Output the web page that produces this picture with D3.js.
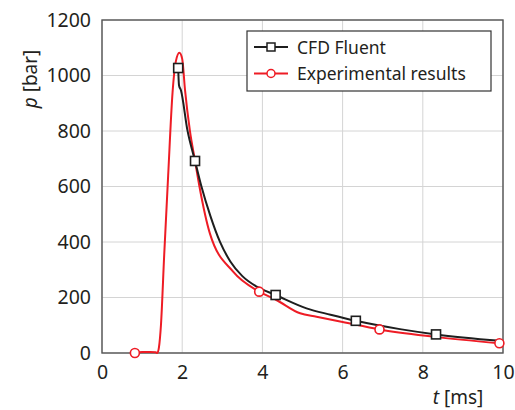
<!DOCTYPE html>
<html>
<head>
<meta charset="utf-8">
<script src="https://cdn.jsdelivr.net/npm/d3@7"></script>
<style>
  body { margin: 0; background: #fff; }
  svg { display: block; font-family: "Noto Sans", "Open Sans", sans-serif; }
</style>
</head>
<body>
<div id="chart"></div>
<script>
// Pressure vs time — CFD Fluent vs experimental results
const xTicks = [0, 2, 4, 6, 8, 10];
const yTicks = [0, 200, 400, 600, 800, 1000, 1200];

// CFD Fluent (black) curve
const cfdT = [1.90, 1.92, 1.97, 2.13, 2.32, 2.48, 2.70, 2.94, 3.20, 3.50, 3.86, 4.33, 5.10, 5.70, 6.33, 7.43, 8.33, 9.93];
const cfdP = [1027, 965, 946, 803, 692, 600, 495, 401, 330, 277, 239, 209, 161, 138, 116, 86, 67, 44];
const cfdMarkT = [1.90, 2.32, 4.33, 6.33, 8.33];
const cfdMarkP = [1027, 692, 209, 116, 67];

// Experimental (red) curve
const expT = [0.82, 1.00, 1.20, 1.34, 1.38, 1.42, 1.47, 1.55, 1.65, 1.76, 1.84, 1.93, 2.00, 2.07, 2.19, 2.32, 2.43, 2.69, 3.27, 3.92, 4.35, 4.94, 5.35, 6.00, 6.92, 8.26, 9.91];
const expP = [0, 4, 4, 3, 0, 20, 100, 350, 640, 940, 1050, 1082, 1060, 948, 803, 692, 600, 431, 293, 221, 191, 143, 131, 112, 85, 59, 35];
const expMarkT = [0.82, 3.92, 6.92, 9.91];
const expMarkP = [0, 221, 85, 35];

const legendLabels = ["CFD Fluent", "Experimental results"];
const colors = ["#1e1e1e", "#ee1c25"];

(function(){
  const width = 515, height = 410;
  const margin = {top: 20, right: 12, bottom: 57, left: 102};
  const innerW = width - margin.left - margin.right;
  const innerH = height - margin.top - margin.bottom;

  const svg = d3.select("#chart").append("svg")
    .attr("width", width)
    .attr("height", height);

  const g = svg.append("g")
    .attr("transform", `translate(${margin.left},${margin.top})`);

  const x = d3.scaleLinear().domain([0, 10]).range([0, innerW]);
  const y = d3.scaleLinear().domain([0, 1200]).range([innerH, 0]);

  // Grid
  g.append("g").selectAll("line").data(xTicks).join("line")
    .attr("x1", d => x(d)).attr("x2", d => x(d))
    .attr("y1", 0).attr("y2", innerH)
    .attr("stroke", "#d4d4d4").attr("stroke-width", 1);
  g.append("g").selectAll("line").data(yTicks).join("line")
    .attr("x1", 0).attr("x2", innerW)
    .attr("y1", d => y(d)).attr("y2", d => y(d))
    .attr("stroke", "#d4d4d4").attr("stroke-width", 1);

  // Axes
  const xAxis = g.append("g")
    .attr("transform", `translate(0,${innerH})`)
    .call(d3.axisBottom(x).tickValues(xTicks).tickFormat(d3.format("d")).tickSize(0).tickPadding(12));
  const yAxis = g.append("g")
    .call(d3.axisLeft(y).tickValues(yTicks).tickFormat(d3.format("d")).tickSize(0).tickPadding(11));
  [xAxis, yAxis].forEach(a => {
    a.select(".domain").remove();
    a.selectAll("text")
      .attr("fill", "#231f20")
      .style("font-size", "19.5px")
      .style("font-family", "'Noto Sans', sans-serif");
  });

  // Frame
  g.append("rect")
    .attr("width", innerW).attr("height", innerH)
    .attr("fill", "none").attr("stroke", "#555").attr("stroke-width", 1.4);

  // Axis labels
  const yl = svg.append("text")
    .attr("transform", `translate(37,79) rotate(-90)`)
    .attr("text-anchor", "middle")
    .attr("fill", "#231f20")
    .style("font-size", "19px");
  yl.append("tspan").attr("font-style", "italic").text("p");
  yl.append("tspan").text(" [bar]");

  const xl = svg.append("text")
    .attr("x", 458).attr("y", 404)
    .attr("text-anchor", "middle")
    .attr("fill", "#231f20")
    .style("font-size", "19px");
  xl.append("tspan").attr("font-style", "italic").text("t");
  xl.append("tspan").text(" [ms]");

  const line = d3.line()
    .x(d => x(d[0]))
    .y(d => y(d[1]))
    .curve(d3.curveMonotoneX);

  const cfd = d3.zip(cfdT, cfdP);
  const exp = d3.zip(expT, expP);

  g.append("path").datum(exp)
    .attr("fill", "none").attr("stroke", colors[1]).attr("stroke-width", 2)
    .attr("d", line);
  g.append("path").datum(cfd)
    .attr("fill", "none").attr("stroke", colors[0]).attr("stroke-width", 2)
    .attr("d", line);

  // Markers
  g.selectAll(".sq").data(d3.zip(cfdMarkT, cfdMarkP)).join("rect")
    .attr("class", "sq")
    .attr("x", d => x(d[0]) - 4.5).attr("y", d => y(d[1]) - 4.5)
    .attr("width", 9).attr("height", 9)
    .attr("fill", "#fff").attr("stroke", colors[0]).attr("stroke-width", 1.6);
  g.selectAll(".ci").data(d3.zip(expMarkT, expMarkP)).join("circle")
    .attr("class", "ci")
    .attr("cx", d => x(d[0])).attr("cy", d => y(d[1]))
    .attr("r", 4.5)
    .attr("fill", "#fff").attr("stroke", colors[1]).attr("stroke-width", 1.6);

  // Legend
  const legend = svg.append("g").attr("transform", "translate(247,31)");
  legend.append("rect")
    .attr("width", 244).attr("height", 60)
    .attr("fill", "#fff").attr("stroke", "#333").attr("stroke-width", 1.2);
  legendLabels.forEach((lab, i) => {
    const row = legend.append("g").attr("transform", `translate(0,${16 + i * 26.5})`);
    row.append("line")
      .attr("x1", 7).attr("x2", 41)
      .attr("stroke", colors[i]).attr("stroke-width", 2);
    if (i === 0) {
      row.append("rect").attr("x", 20).attr("y", -4).attr("width", 8).attr("height", 8)
        .attr("fill", "#fff").attr("stroke", colors[0]).attr("stroke-width", 1.5);
    } else {
      row.append("circle").attr("cx", 24).attr("cy", 0).attr("r", 4)
        .attr("fill", "#fff").attr("stroke", colors[1]).attr("stroke-width", 1.5);
    }
    row.append("text")
      .attr("x", 50).attr("y", 6.5)
      .attr("fill", "#231f20")
      .style("font-size", "17.5px")
      .text(lab);
  });
})();
</script>
</body>
</html>
